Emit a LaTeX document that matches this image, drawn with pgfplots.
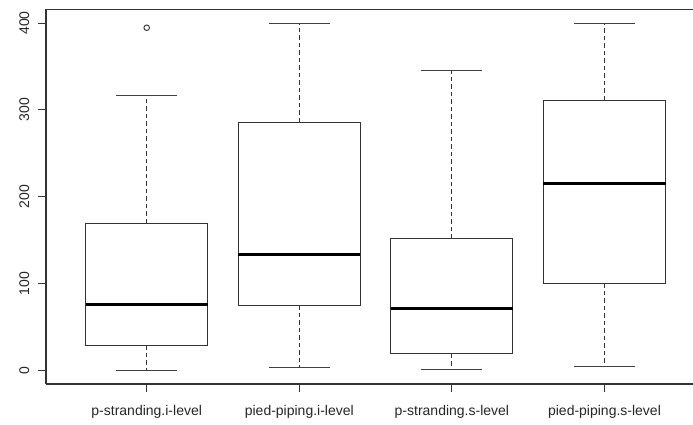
\documentclass[border=0pt]{standalone}
\usepackage{fontspec}
\setmainfont{Liberation Sans}
\usepackage{pgfplots}
\pgfplotsset{compat=1.18}
\begin{document}
\begin{tikzpicture}
\begin{axis}[
  width=647bp, height=374.8bp, scale only axis,
  xmin=0.34, xmax=4.58, ymin=-16, ymax=416,
  axis x line*=box, axis y line*=left,
  xtick pos=bottom, ytick pos=left,
  xtick={1,2,3,4},
  xticklabels={p-stranding.i-level,pied-piping.i-level,p-stranding.s-level,pied-piping.s-level},
  ytick={0,100,200,300,400},
  tick align=outside, major tick length=8bp,
  axis line style={black!80, line width=1.1bp},
  every tick/.style={black!80, line width=1.1bp},
  /pgf/number format/assume math mode=true,
  ticklabel style={font=\fontsize{14bp}{16bp}\selectfont, text=black!85},
  yticklabel style={rotate=90, anchor=south, inner xsep=0pt, inner ysep=8.5bp},
  xticklabel style={anchor=north, inner xsep=0pt, inner ysep=13bp},
  box/.style={black!80, line width=1.1bp, line join=miter, mark=none},
  med/.style={black, line width=2.8bp, line cap=butt, mark=none},
  whisk/.style={black!80, line width=1.1bp, dash pattern=on 4.5bp off 3bp, mark=none},
  cap/.style={black!75, line width=1.1bp, mark=none},
]
% box 1: p-stranding.i-level
\addplot[box] coordinates {(0.6,28.4) (1.4,28.4) (1.4,169) (0.6,169)} -- cycle;
\addplot[med] coordinates {(0.6,75.7) (1.4,75.7)};
\addplot[whisk] coordinates {(1,169) (1,316.6)};
\addplot[whisk] coordinates {(1,28.4) (1,0)};
\addplot[cap] coordinates {(0.8,316.6) (1.2,316.6)};
\addplot[cap] coordinates {(0.8,0) (1.2,0)};
\addplot[only marks, black!80, mark=o, mark size=2.8bp, mark options={line width=0.9bp}] coordinates {(1,394.6)};
% box 2: pied-piping.i-level
\addplot[box] coordinates {(1.6,74.9) (2.4,74.9) (2.4,285.5) (1.6,285.5)} -- cycle;
\addplot[med] coordinates {(1.6,133.7) (2.4,133.7)};
\addplot[whisk] coordinates {(2,285.5) (2,400)};
\addplot[whisk] coordinates {(2,74.9) (2,2.7)};
\addplot[cap] coordinates {(1.8,400) (2.2,400)};
\addplot[cap] coordinates {(1.8,2.7) (2.2,2.7)};
% box 3: p-stranding.s-level
\addplot[box] coordinates {(2.6,18.8) (3.4,18.8) (3.4,151.4) (2.6,151.4)} -- cycle;
\addplot[med] coordinates {(2.6,70.7) (3.4,70.7)};
\addplot[whisk] coordinates {(3,151.4) (3,345)};
\addplot[whisk] coordinates {(3,18.8) (3,0.3)};
\addplot[cap] coordinates {(2.8,345) (3.2,345)};
\addplot[cap] coordinates {(2.8,0.3) (3.2,0.3)};
% box 4: pied-piping.s-level
\addplot[box] coordinates {(3.6,100.3) (4.4,100.3) (4.4,310.9) (3.6,310.9)} -- cycle;
\addplot[med] coordinates {(3.6,214.8) (4.4,214.8)};
\addplot[whisk] coordinates {(4,310.9) (4,400)};
\addplot[whisk] coordinates {(4,100.3) (4,3.8)};
\addplot[cap] coordinates {(3.8,400) (4.2,400)};
\addplot[cap] coordinates {(3.8,3.8) (4.2,3.8)};
\coordinate (sw) at (rel axis cs:0,0);
\coordinate (ne) at (rel axis cs:1,1);
\end{axis}
\pgfresetboundingbox
\path ([shift={(-46bp,-41bp)}]sw) rectangle ([shift={(0bp,9.2bp)}]ne);
\end{tikzpicture}
\end{document}
